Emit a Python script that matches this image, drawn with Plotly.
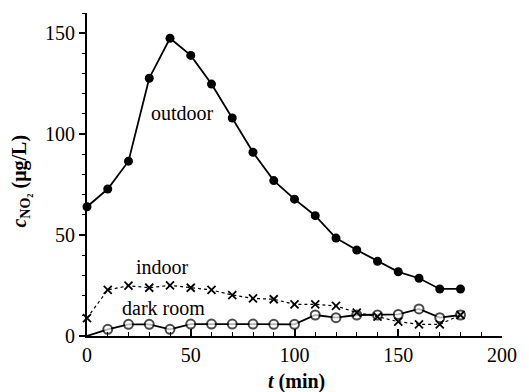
import plotly.graph_objects as go

t_min = [0, 10, 20, 30, 40, 50, 60, 70, 80, 90, 100, 110, 120, 130, 140, 150, 160, 170, 180]
outdoor = [64, 72.8, 86.6, 127.7, 147.5, 139, 124.8, 108, 91, 77, 67.8, 59.6, 48.5, 42.6, 37, 31.8, 28.6, 23.3, 23.3]
indoor = [8.9, 22.8, 24.9, 23.9, 25.1, 23.9, 22.8, 20.3, 18.6, 18.2, 15.7, 15.7, 14.9, 11.6, 9.6, 7.1, 5.8, 5.8, 10.4]
dark_room = [0, 3.3, 5.8, 5.8, 3.3, 5.9, 5.9, 5.9, 5.9, 5.8, 5.8, 10.4, 9.1, 10.4, 10.4, 10.7, 13.4, 9.1, 10.4]

FONT = "Liberation Serif, Times New Roman, serif"

fig = go.Figure()
fig.add_trace(go.Scatter(
    x=t_min, y=dark_room, mode="lines+markers", name="dark room",
    line=dict(color="black", width=1.8),
    marker=dict(symbol="circle", size=[0] + [9] * (len(t_min) - 1), color="white",
                line=dict(width=2, color="black")),
    cliponaxis=False,
))
fig.add_trace(go.Scatter(
    x=t_min, y=indoor, mode="lines+markers", name="indoor",
    line=dict(color="black", width=1.2, dash="dot"),
    marker=dict(symbol="x-thin-open", size=8, color="black", line=dict(width=1.8, color="black")),
    cliponaxis=False,
))
fig.add_trace(go.Scatter(
    x=t_min, y=outdoor, mode="lines+markers", name="outdoor",
    line=dict(color="black", width=1.8),
    marker=dict(symbol="circle", size=9, color="black"),
    cliponaxis=False,
))

labels = [("outdoor", 46, 110.4), ("indoor", 36.6, 34), ("dark room", 37.1, 13.9)]
for txt, x, y in labels:
    fig.add_annotation(x=x, y=y, text=txt, showarrow=False,
                       font=dict(family=FONT, size=20, color="black"))

fig.add_annotation(xref="paper", yref="paper", x=0.504, y=-0.14, yanchor="middle",
                   text="<i>t</i> (min)", showarrow=False,
                   font=dict(family=FONT, size=20, color="black", weight="bold"))
fig.add_annotation(xref="paper", yref="paper", x=-0.16, y=0.48, xanchor="center", yanchor="middle",
                   text="<i>c</i><sub>NO₂</sub> (μg/L)", textangle=-90, showarrow=False,
                   font=dict(family=FONT, size=20, color="black", weight="bold"))

fig.update_layout(
    width=529, height=392,
    margin=dict(l=87, r=19, t=13, b=56),
    plot_bgcolor="white", paper_bgcolor="white",
    showlegend=False,
    font=dict(family=FONT, size=20, color="black"),
    xaxis=dict(range=[0, 200], tickvals=[0, 50, 100, 150, 200], showgrid=False, zeroline=False,
               showline=True, linecolor="black", linewidth=2, ticks="inside", ticklen=7,
               tickwidth=1.5, tickcolor="black",
               minor=dict(dtick=10, ticks="inside", ticklen=4, tickwidth=1, tickcolor="black"),
               tickfont=dict(family=FONT, size=20, color="black")),
    yaxis=dict(range=[0, 160], tickvals=[0, 50, 100, 150], showgrid=False, zeroline=False,
               showline=True, linecolor="black", linewidth=2, ticks="outside", ticklen=6,
               tickwidth=1.5, tickcolor="black",
               minor=dict(dtick=10, ticks="outside", ticklen=3, tickwidth=1, tickcolor="black"),
               tickfont=dict(family=FONT, size=20, color="black")),
)

fig.write_html("out.html")
